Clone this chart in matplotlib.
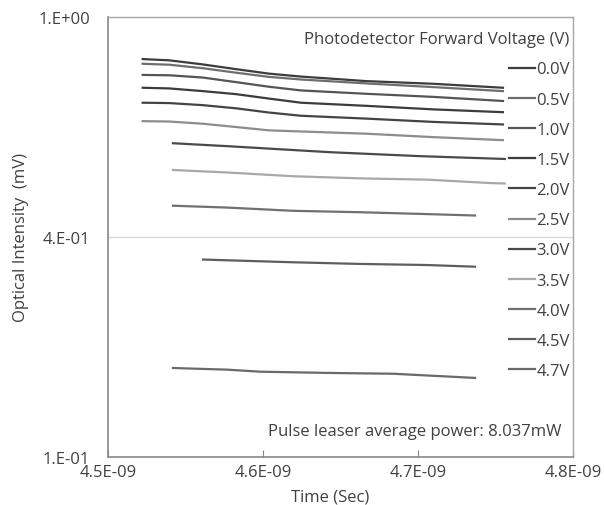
import numpy as np
import matplotlib
matplotlib.use("Agg")
import matplotlib.pyplot as plt

plt.rcParams['font.family'] = ['Open Sans', 'DejaVu Sans']

labels = ["0.0V", "0.5V", "1.0V", "1.5V", "2.0V", "2.5V", "3.0V", "3.5V", "4.0V", "4.5V", "4.7V"]

# time in ns, intensity in mV
t_top = [4.5224, 4.5395, 4.5611, 4.5826, 4.6039, 4.6245, 4.6669, 4.7097, 4.7548]
y_0 = [0.858, 0.854, 0.841, 0.826, 0.812, 0.803, 0.789, 0.781, 0.769]
y_1 = [0.843, 0.840, 0.829, 0.815, 0.802, 0.794, 0.782, 0.771, 0.759]
y_2 = [0.808, 0.807, 0.800, 0.786, 0.772, 0.761, 0.751, 0.742, 0.730]
y_3 = [0.769, 0.767, 0.759, 0.750, 0.737, 0.725, 0.716, 0.706, 0.698]
y_4 = [0.725, 0.724, 0.718, 0.709, 0.697, 0.688, 0.680, 0.671, 0.664]
y_5 = [0.673, 0.672, 0.666, 0.657, 0.648, 0.645, 0.639, 0.630, 0.622]
t_6 = [4.5419, 4.5787, 4.6432, 4.7013, 4.756]
y_6 = [0.614, 0.606, 0.591, 0.581, 0.574]
t_7 = [4.5419, 4.5768, 4.6194, 4.6626, 4.7058, 4.7465, 4.756]
y_7 = [0.547, 0.541, 0.532, 0.527, 0.524, 0.516, 0.515]
t_8 = [4.5419, 4.5768, 4.6194, 4.6626, 4.7058, 4.7368]
y_8 = [0.465, 0.461, 0.454, 0.451, 0.447, 0.444]
t_9 = [4.5613, 4.6194, 4.6626, 4.7058, 4.7368]
y_9 = [0.357, 0.352, 0.349, 0.347, 0.344]
t_10 = [4.5419, 4.5768, 4.5981, 4.6413, 4.6839, 4.7368]
y_10 = [0.191, 0.189, 0.1865, 0.185, 0.184, 0.179]

times = [t_top, t_top, t_top, t_top, t_top, t_top, t_6, t_7, t_8, t_9, t_10]
values = [y_0, y_1, y_2, y_3, y_4, y_5, y_6, y_7, y_8, y_9, y_10]

x_ticks = [4.5e-9, 4.6e-9, 4.7e-9, 4.8e-9]
x_ticklabels = ["4.5E-09", "4.6E-09", "4.7E-09", "4.8E-09"]
y_ticks = [0.1, 0.4, 1.0]
y_ticklabels = ["1.E-01", "4.E-01", "1.E+00"]

colors = ["#3c3c3c", "#6e6e6e", "#555555", "#3c3c3c", "#444444", "#8c8c8c",
          "#4a4a4a", "#a8a8a8", "#707070", "#5e5e5e", "#6a6a6a"]

P = 0.365
def fwd(v):
    v = np.asarray(v, dtype=float)
    return np.clip(v, 1e-9, None) ** P
def inv(v):
    v = np.asarray(v, dtype=float)
    return np.clip(v, 0, None) ** (1.0 / P)

FS = 12
fig = plt.figure(figsize=(6.04, 5.06), dpi=100)
ax = fig.add_axes([108/604, 48/506, 465/604, 440/506])
ax.set_yscale('function', functions=(fwd, inv))
ax.set_ylim(0.1, 1.0)
ax.set_xlim(4.5e-9, 4.8e-9)

for t, y, lab, c in zip(times, values, labels, colors):
    ax.plot(np.array(t) * 1e-9, y, color=c, lw=1.6, label=lab)

ax.axhline(0.4, color="#d9d9d9", lw=1.0, zorder=0)

ax.set_xticks(x_ticks)
ax.set_xticklabels(x_ticklabels)
ax.set_yticks(y_ticks)
ax.set_yticklabels(y_ticklabels)
ax.yaxis.set_minor_locator(matplotlib.ticker.NullLocator())
ax.xaxis.set_minor_locator(matplotlib.ticker.NullLocator())
ax.tick_params(axis='x', direction='in', length=5, color="#888888", labelsize=FS,
               labelcolor="#404040", pad=5)
ax.tick_params(axis='y', direction='in', length=0, labelsize=FS,
               labelcolor="#404040", pad=13)

for s in ['left', 'bottom']:
    ax.spines[s].set_color("#888888")
    ax.spines[s].set_linewidth(1.2)
for s in ['top', 'right']:
    ax.spines[s].set_color("#a6a6a6")
    ax.spines[s].set_linewidth(1.0)

ax.set_ylabel("Optical Intensity  (mV)", fontsize=FS, color="#404040")
ax.yaxis.set_label_coords(-0.188, 0.5)
ax.yaxis.label.set_va('center')
ax.set_xlabel("Time (Sec)", fontsize=FS, color="#404040")
ax.xaxis.label.set_va('center')
ax.xaxis.set_label_coords(0.477, -0.089)

leg = ax.legend(loc='upper right', bbox_to_anchor=(1.0, 0.975), frameon=False,
                title="Photodetector Forward Voltage (V)", title_fontsize=FS,
                fontsize=FS, handlelength=1.55, handletextpad=0.1,
                labelspacing=0.85, alignment='right', borderaxespad=0.0,
                borderpad=0.2)
for txt in leg.get_texts():
    txt.set_color("#404040")
leg.get_title().set_color("#404040")

ax.text(0.975, 0.058, "Pulse leaser average power: 8.037mW", transform=ax.transAxes,
        ha='right', va='center', fontsize=FS, color="#404040")

fig.savefig("out.png", dpi=100)
